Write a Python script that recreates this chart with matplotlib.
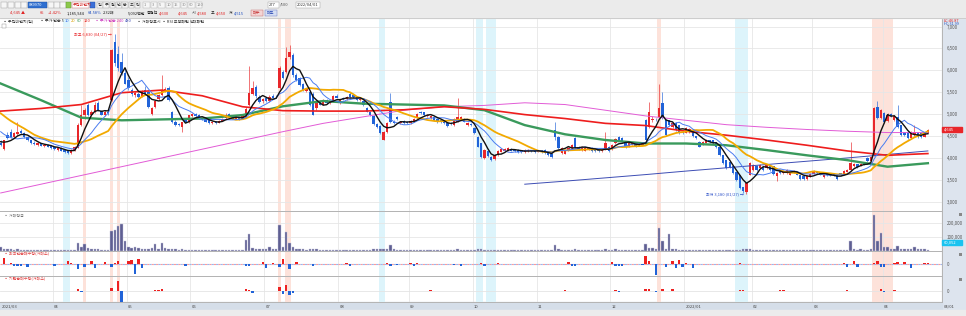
import matplotlib
matplotlib.use("Agg")
import matplotlib.pyplot as plt
from matplotlib.patches import Rectangle
from matplotlib.transforms import blended_transform_factory
import numpy as np
import pandas as pd

plt.rcParams["font.family"] = ["Noto Sans CJK KR", "DejaVu Sans"]

W, H = 966, 316

# ---------------- data ----------------
krx_holidays = ["2021-05-05", "2021-05-19", "2021-08-16", "2021-09-20", "2021-09-21",
                "2021-09-22", "2021-10-04", "2021-10-11", "2021-12-31", "2022-01-31",
                "2022-02-01", "2022-02-02", "2022-03-01", "2022-03-09"]
days = pd.bdate_range("2021-03-10", "2022-04-20")
days = days[~days.isin(pd.to_datetime(krx_holidays))]

opens = [
    4350, 4210, 4520, 4590, 4480, 4540, 4610, 4560, 4480, 4400, 4350, 4300, 4330, 4270, 4300, 4270,
    4240, 4190, 4230, 4180, 4150, 4110, 4180, 4230, 4760, 4990, 5200, 4990, 5060, 5250, 5080, 4990, 5060, 5320, 6650, 6370, 6200, 5930,
    5780, 5560, 5430, 5470, 5420, 5560, 5500, 5000, 5160, 5340, 5440, 5530, 5600, 5050, 4830, 4780, 4700, 4880, 4820,
    4950, 5000, 4980, 4900, 4900, 4860, 4800, 4830, 4800, 4850, 4920, 5000, 4940, 4900, 4930, 4890, 4960, 5200, 5450, 5620, 5400, 5300,
    5360, 5300, 5420, 5400, 5600, 5960, 5960, 6300, 6350, 5900, 5820, 5700, 5530, 5500, 5450, 5150, 5300, 5220, 5320, 5260, 5300, 5420,
    5250, 5380, 5340, 5460, 5440, 5400, 5320, 5300, 5150, 5060, 4960, 4780, 4740, 4420, 4600, 5270, 4830, 4930, 4800, 4850, 4830,
    4800, 4830, 4920, 5060, 5050, 4950, 4920, 4930, 4900, 4860, 4860, 4800, 4800, 4760, 4830, 4880, 4900, 4750, 4780,
    4680, 4470, 4330, 4000, 4150, 4020, 3980, 4060, 4140, 4170, 4170, 4210, 4190, 4190, 4180, 4130, 4150, 4180, 4180,
    4140, 4180, 4190, 4130, 4100, 4640, 4470, 4110, 4100, 4180, 4220, 4450, 4260, 4180, 4170, 4190, 4230, 4220, 4180, 4150, 4200, 4250,
    4200, 4330, 4470, 4450, 4360, 4280, 4300, 4360, 4290, 4300, 4860, 4700, 4860, 4900, 4930, 5250, 4860, 4860, 4700, 4800, 4750, 4600,
    4570, 4590, 4640, 4500, 4360, 4310, 4340, 4410, 4400, 4360, 4250, 4060, 3950, 3900, 3810, 3680, 3610, 3330, 3220, 3610,
    3720, 3810, 3780, 3800, 3760, 3820, 3810, 3580, 3700, 3650, 3650, 3620, 3660, 3680, 3620, 3580, 3520, 3580,
    3640, 3700, 3680, 3560, 3640, 3650, 3640, 3610, 3650, 3620, 3680, 3720, 3820, 3860, 3820, 3900, 4000, 3930, 4060, 5160, 4910,
    5020, 4850, 5000, 4870, 4930, 4750, 4590, 4590, 4450, 4520, 4590, 4560, 4480, 4570,
]
highs = [
    4400, 4420, 4600, 4650, 4600, 4820, 4650, 4590, 4500, 4420, 4380, 4360, 4350, 4320, 4320, 4290,
    4260, 4250, 4240, 4200, 4160, 4200, 4270, 4800, 5200, 5150, 5250, 5090, 5280, 5300, 5100, 5090, 5100, 6480, 6830, 6550, 6400, 6050,
    5850, 5600, 5520, 5500, 5560, 5640, 5520, 5160, 5320, 5460, 5890, 5620, 5640, 5080, 4860, 4800, 4830, 4900, 4990,
    5030, 5020, 5000, 4920, 4910, 4870, 4840, 4840, 4870, 4920, 5020, 5020, 4960, 4950, 4940, 4970, 5160, 6100, 5750, 5660, 5430, 5380,
    5400, 5440, 5460, 5440, 6100, 6000, 6530, 6570, 6400, 5950, 5840, 5720, 5600, 5520, 5500, 5320, 5320, 5340, 5340, 5300, 5440, 5450,
    5350, 5400, 5410, 5500, 5460, 5420, 5390, 5320, 5170, 5080, 4980, 4800, 4760, 4620, 4820, 5480, 4860, 4950, 4850, 4870, 4850,
    4860, 4920, 5020, 5080, 5060, 5010, 4980, 4950, 4910, 4880, 4870, 4810, 4820, 4920, 5360, 4960, 4920, 4820, 4800,
    4700, 4490, 4340, 4200, 4170, 4040, 4090, 4190, 4220, 4230, 4240, 4220, 4200, 4200, 4190, 4200, 4200, 4190, 4190,
    4190, 4190, 4200, 4140, 4110, 4820, 4490, 4240, 4180, 4250, 4320, 4470, 4280, 4270, 4240, 4260, 4240, 4230, 4190, 4220, 4590, 4270,
    4310, 4460, 4490, 4470, 4380, 4350, 4360, 4370, 4350, 4370, 4900, 5270, 4950, 4920, 5700, 5500, 4880, 4870, 4820, 4810, 4760, 4620,
    4700, 4680, 4650, 4510, 4380, 4380, 4430, 4420, 4410, 4370, 4260, 4070, 3960, 3910, 3820, 3690, 3620, 3340, 3440, 3900,
    3860, 3830, 3860, 3810, 3860, 3830, 3820, 3670, 3710, 3720, 3740, 3690, 3720, 3690, 3630, 3590, 3610, 3650,
    3720, 3710, 3690, 3620, 3650, 3660, 3650, 3620, 3660, 3720, 3740, 4360, 3880, 3870, 3880, 3910, 4020, 4040, 5160, 5290, 5120,
    5060, 5030, 5020, 4980, 5200, 4760, 4600, 4610, 4610, 4750, 4600, 4570, 4600, 4660,
]
lows = [
    4280, 4180, 4430, 4460, 4460, 4520, 4540, 4460, 4380, 4320, 4290, 4280, 4270, 4250, 4240, 4210,
    4180, 4170, 4150, 4120, 4080, 4100, 4170, 4220, 4740, 4900, 4950, 4950, 5030, 5080, 4970, 4960, 4990, 5300, 6100, 5980, 5900, 5680,
    5560, 5420, 5400, 5370, 5400, 5450, 5150, 4980, 5140, 5320, 5420, 5500, 5300, 4800, 4740, 4720, 4600, 4810, 4800,
    4930, 4940, 4880, 4860, 4810, 4780, 4780, 4780, 4790, 4840, 4900, 4910, 4880, 4890, 4870, 4880, 4940, 5180, 5430, 5380, 5250, 5260,
    5270, 5280, 5360, 5360, 5580, 5800, 5940, 6260, 5860, 5760, 5640, 5530, 5500, 5180, 4970, 5100, 5200, 5200, 5230, 5240, 5280, 5360,
    5230, 5320, 5330, 5380, 5370, 5300, 5300, 5180, 5040, 4960, 4760, 4680, 4550, 4400, 4580, 4800, 4780, 4860, 4780, 4770, 4780,
    4780, 4820, 4900, 5000, 4960, 4940, 4900, 4840, 4800, 4800, 4780, 4700, 4760, 4740, 4820, 4860, 4810, 4730, 4740,
    4540, 4240, 4000, 3980, 4020, 3940, 3960, 4050, 4130, 4160, 4160, 4150, 4130, 4120, 4120, 4120, 4140, 4130, 4120,
    4130, 4110, 4100, 4040, 4000, 4400, 4200, 4090, 4080, 4160, 4200, 4230, 4180, 4170, 4160, 4180, 4140, 4140, 4130, 4140, 4190, 4130,
    4190, 4310, 4390, 4360, 4230, 4260, 4290, 4260, 4280, 4290, 4330, 4680, 4820, 4840, 4910, 4890, 4500, 4730, 4680, 4620, 4550, 4550,
    4560, 4580, 4480, 4430, 4240, 4290, 4330, 4350, 4320, 4230, 4040, 3860, 3750, 3780, 3630, 3480, 3290, 3200, 3180, 3600,
    3700, 3700, 3770, 3700, 3750, 3700, 3620, 3480, 3640, 3640, 3640, 3610, 3650, 3600, 3500, 3500, 3500, 3570,
    3630, 3640, 3600, 3540, 3580, 3580, 3580, 3500, 3580, 3610, 3670, 3700, 3800, 3780, 3810, 3830, 3900, 3920, 4050, 4890, 4880,
    4800, 4830, 4940, 4850, 4680, 4500, 4500, 4430, 4440, 4510, 4460, 4450, 4470, 4560,
]
closes = [
    4300, 4400, 4460, 4480, 4570, 4600, 4560, 4480, 4400, 4340, 4310, 4340, 4280, 4300, 4260, 4230,
    4200, 4230, 4170, 4140, 4110, 4180, 4250, 4760, 4980, 5100, 4980, 5050, 5200, 5100, 4990, 5060, 5020, 6460, 6160, 6050, 5930, 5700,
    5600, 5450, 5480, 5390, 5520, 5470, 5170, 5140, 5300, 5430, 5520, 5580, 5320, 4820, 4760, 4750, 4820, 4830, 4970,
    5000, 4960, 4900, 4880, 4830, 4800, 4820, 4800, 4850, 4900, 4990, 4930, 4900, 4930, 4890, 4950, 5120, 5480, 5600, 5420, 5280, 5350,
    5290, 5400, 5380, 5390, 6050, 5820, 6280, 6420, 5890, 5780, 5660, 5550, 5580, 5200, 4990, 5300, 5220, 5320, 5250, 5280, 5420, 5380,
    5330, 5340, 5390, 5400, 5390, 5320, 5370, 5200, 5060, 4980, 4780, 4700, 4570, 4590, 4800, 4830, 4800, 4880, 4830, 4790, 4800,
    4840, 4900, 5000, 5020, 4980, 4990, 4960, 4860, 4820, 4820, 4800, 4720, 4780, 4900, 4930, 4940, 4830, 4800, 4760,
    4560, 4260, 4020, 4180, 4040, 3960, 4070, 4170, 4200, 4210, 4220, 4170, 4150, 4140, 4140, 4180, 4180, 4150, 4140,
    4170, 4130, 4120, 4060, 4020, 4470, 4220, 4220, 4160, 4230, 4300, 4260, 4200, 4250, 4220, 4240, 4160, 4160, 4150, 4200, 4330, 4150,
    4290, 4440, 4410, 4380, 4250, 4330, 4340, 4280, 4330, 4350, 4400, 5050, 4900, 4880, 5140, 4910, 4520, 4750, 4800, 4640, 4570, 4570,
    4680, 4660, 4500, 4450, 4260, 4360, 4410, 4370, 4340, 4250, 4060, 3880, 3770, 3800, 3650, 3500, 3310, 3240, 3420, 3880,
    3840, 3720, 3840, 3720, 3840, 3720, 3640, 3650, 3660, 3700, 3720, 3670, 3700, 3620, 3520, 3520, 3590, 3630,
    3700, 3660, 3620, 3600, 3600, 3600, 3600, 3520, 3600, 3700, 3720, 3880, 3860, 3800, 3860, 3850, 3920, 4020, 5140, 4910, 5090,
    4820, 4990, 4960, 4960, 4700, 4520, 4520, 4450, 4590, 4590, 4480, 4470, 4580, 4645,
]
# closes before the first visible day (they only feed the short averages)
prev_closes = [5600, 5650, 5550, 5500, 5450, 5400, 5350, 5350, 5300, 5250,
               5000, 4900, 4800, 4750, 4700, 4450, 4400, 4350, 4350]

# volume, thousand shares
volume_k = [
    25, 12, 9, 10, 8, 14, 7, 6, 6, 5, 5, 6, 4, 5, 4, 5,
    5, 4, 5, 6, 5, 4, 8, 58, 30, 48, 18, 12, 14, 10, 8, 7, 6, 140, 150, 175, 190, 70,
    30, 22, 25, 18, 15, 14, 12, 20, 48, 14, 58, 16, 12, 14, 10, 8, 9, 7, 8,
    7, 6, 6, 5, 5, 6, 5, 4, 5, 6, 8, 6, 5, 5, 4, 6, 78, 123, 20, 15, 12, 10,
    10, 25, 12, 10, 183, 30, 138, 53, 25, 15, 12, 10, 8, 12, 14, 10, 8, 7, 6, 6, 8, 7,
    8, 7, 6, 7, 6, 6, 5, 6, 7, 8, 10, 9, 12, 14, 12, 39, 10, 8, 6, 6, 5,
    5, 6, 7, 6, 5, 5, 4, 5, 5, 4, 4, 5, 4, 8, 10, 6, 5, 5, 4,
    6, 10, 12, 8, 6, 5, 5, 6, 5, 4, 4, 4, 4, 4, 4, 4, 5, 4, 4,
    4, 4, 5, 6, 7, 39, 12, 6, 5, 5, 6, 9, 6, 5, 4, 4, 4, 4, 4, 5, 14, 6,
    6, 9, 7, 6, 7, 5, 5, 5, 5, 6, 45, 20, 20, 12, 163, 69, 15, 121, 15, 10, 8, 7,
    6, 6, 6, 5, 5, 5, 5, 5, 4, 5, 6, 7, 6, 5, 6, 7, 8, 10, 12, 9,
    7, 6, 5, 5, 5, 4, 5, 6, 5, 4, 4, 4, 4, 4, 5, 4, 4, 4,
    4, 4, 4, 4, 4, 4, 4, 5, 5, 6, 8, 71, 10, 7, 12, 6, 8, 10, 257, 71, 125,
    30, 28, 15, 12, 35, 12, 12, 15, 10, 30, 12, 10, 9, 8,
]

# long averages, one value every 12 trading days
ma_step = 12
ma60_pts = [5700, 5320, 4920, 4860, 4880, 4900, 4980, 5180, 5300, 5240, 5220, 5200,
            5090, 4750, 4540, 4410, 4330, 4330, 4290, 4180, 4060, 3950, 3800, 3880]
ma120_pts = [5070, 5130, 5220, 5490, 5550, 5420, 5170, 5080, 5070, 5070, 5100, 5170,
             5110, 4990, 4900, 4790, 4740, 4610, 4520, 4410, 4290, 4160, 4060, 4100]
ma240_pts = [3200, 3400, 3600, 3800, 4000, 4200, 4400, 4600, 4790, 4940, 5090, 5170,
             5200, 5260, 5220, 5090, 4960, 4860, 4760, 4700, 4650, 4610, 4580, 4580]
ma480_start = 156
ma480_pts = [3400, 3470, 3545, 3620, 3700, 3775, 3850, 3925, 4000, 4080, 4160]

# net buying (thousand shares) on the days where a bar is visible
foreign_days = [1, 3, 4, 5, 6, 8, 16, 20, 21, 23, 25, 27, 28, 31, 33, 34, 35, 38, 39, 40, 41, 42,
                55, 73, 74, 78, 79, 81, 83, 84, 86, 88, 93, 103, 104, 115, 116, 118, 122, 123,
                124, 135, 137, 143, 144, 148, 169, 170, 171, 182, 183, 184, 185, 191, 192, 193,
                195, 198, 200, 201, 202, 203, 204, 206, 220, 251, 252, 254, 255, 260, 261, 262,
                263, 266, 267, 269, 271, 275, 276]
foreign_net = [6, 1.7, -1.7, -1.7, -1.7, -2.3, -1.5, 3.3, 1.5, -5, -2.3, 3.3, -4, 2.7, -2.3, 1.7,
               3.7, 3.7, 4.3, -9.7, 5, -4, -1.7, -1.7, -1.7, 2.7, -4, 1.7, -3, 5, -5, 2, -1.7,
               1.5, -1.5, 1, -1.5, -1, 1.5, -1.5, 1, -1, -1.5, 1.5, -1.5, 1, 2, -1.5, -1.5, 2,
               -1.5, -1.5, -1.5, -1, 8, 3, -10.7, -2.3, 3.3, -4, 4.3, -2.3, 1, -3.3, 1.5, 1.5,
               -2.3, 3.3, -2.3, 1, 3.3, -2.3, -2.3, 1.7, 2, 2.3, -4, 1, 1]
inst_days = [23, 24, 33, 35, 36, 46, 47, 48, 65, 73, 74, 75, 77, 83, 84, 85, 86, 87, 102, 103,
             104, 128, 148, 168, 170, 183, 184, 192, 193, 195, 197, 198, 200, 201, 202, 203,
             204, 220, 221, 232, 233, 252, 254, 262, 263, 266, 269, 270, 271]
inst_net = [1.3, -1, 2.3, 10, -11, 1, 1, 1.3, -0.5, 1.3, 1, -2, -0.7, 4, -3.3, 6, -4, -2, -0.7,
            -0.7, -0.7, 0.7, -0.5, 0.7, -0.7, 1, -1, 1.3, 1.7, -1.7, 1.3, -0.7, 1.7, -0.7, -0.7,
            -0.7, -0.7, 0.7, 0.7, 0.7, 0.7, 0.7, -0.7, 1.7, -1.3, 0.7, -0.5, -0.5, -0.5]

# marked periods (first day, last day)
red_marks = [(25, 25), (33, 33), (35, 35), (83, 83), (85, 86), (196, 196), (260, 265)]
blue_marks = [(19, 20), (113, 114), (142, 143), (145, 147), (219, 222)]

# ---------------- figure ----------------
UP, DN = "#e8262a", "#2163d8"
FS = 2.9
fig = plt.figure(figsize=(W / 100, H / 100), dpi=100)
fig.patch.set_facecolor("white")


def ax_at(x0, y0, x1, y1):
    return fig.add_axes([x0 / W, 1 - y1 / H, (x1 - x0) / W, (y1 - y0) / H])


# right scale strip, date strip and bottom bar
fig.add_artist(Rectangle((942 / W, 0), 24 / W, 1 - 17.5 / H, transform=fig.transFigure,
                         color="#dde4ee", zorder=-5))
fig.add_artist(Rectangle((0, 1 - 310 / H), 942 / W, 8.3 / H, transform=fig.transFigure,
                         color="#d5dee9", zorder=-5))
fig.add_artist(Rectangle((0, 0), 1, 6 / H, transform=fig.transFigure,
                         color="#ececec", zorder=-4))

x = np.arange(len(closes))
o, h, l, c = map(np.array, (opens, highs, lows, closes))
xlim = (-0.2, 280.2)
month_first = [i for i in range(1, len(days)) if days[i].month != days[i - 1].month]

ax_p = ax_at(0, 17.5, 942, 210.7)
ax_v = ax_at(0, 210.7, 942, 250.7)
ax_f = ax_at(0, 250.7, 942, 276)
ax_i = ax_at(0, 276, 942, 301.7)
panels = [ax_p, ax_v, ax_f, ax_i]

for ax in panels:
    ax.set_xlim(*xlim)
    ax.set_facecolor("none")
    for s in ax.spines.values():
        s.set_color("#b4b4b4")
        s.set_linewidth(0.7)
    ax.spines["left"].set_visible(False)
    ax.set_xticks([])
    for a, b in red_marks:
        ax.axvspan(a - 0.5, b + 0.5, color="#fde2da", lw=0, zorder=0)
    for a, b in blue_marks:
        ax.axvspan(a - 0.5, b + 0.5, color="#ddf4fb", lw=0, zorder=0)
    for m in month_first:
        ax.axvline(m - 0.5, color="#e6e6e6", lw=0.6, zorder=0.5)
    ax.yaxis.tick_right()
    ax.tick_params(axis="y", length=0, labelsize=3.2, labelcolor="#555555", pad=3.5)

# price panel
ax_p.set_ylim(2795, 7208)
ax_p.set_yticks(np.arange(3000, 7001, 500))
ax_p.set_yticklabels([f"{v:,}" for v in range(3000, 7001, 500)])
ax_p.grid(axis="y", color="#e6e6e6", lw=0.6, zorder=0.5)
up = c >= o
col = np.where(up, UP, DN)
ax_p.vlines(x, l, h, colors=col, lw=0.45, zorder=2)
ax_p.bar(x, np.maximum(np.abs(c - o), 12), bottom=np.minimum(o, c), width=0.7,
         color=col, lw=0, zorder=2)

allc = pd.Series(prev_closes + closes, dtype=float)
n0 = len(prev_closes)
for n, color, lw in [(20, "#f2a900", 1.3), (10, "#4a7cf0", 0.7), (5, "#111111", 1.0)]:
    ma = allc.rolling(n).mean().values[n0:]
    ax_p.plot(x, ma, color=color, lw=lw, zorder=4)
xs = np.arange(len(ma60_pts)) * ma_step
ax_p.plot(xs, ma240_pts, color="#e25bd6", lw=0.7, zorder=3)
ax_p.plot(ma480_start + np.arange(len(ma480_pts)) * ma_step, ma480_pts,
          color="#3d4db4", lw=0.7, zorder=3)
ax_p.plot(xs, ma60_pts, color="#3a9a5c", lw=1.7, zorder=3)
ax_p.plot(xs, ma120_pts, color="#ee1d1d", lw=1.2, zorder=3)

hi = int(np.argmax(h))
lo = int(np.argmin(l))
ax_p.text(hi - 0.8, h[hi], f"최고 {h[hi]:,} ({days[hi]:%m/%d}) →", color="#e8262a",
          fontsize=FS, ha="right", va="center", zorder=6)
ax_p.text(lo - 0.8, l[lo], f"최저 {l[lo]:,} ({days[lo]:%m/%d}) →", color="#2c50c8",
          fontsize=FS, ha="right", va="center", zorder=6)

# volume panel
ax_v.set_ylim(0, 288)
ax_v.set_yticks([100, 200])
ax_v.set_yticklabels(["100,000", "200,000"])
ax_v.grid(axis="y", color="#e6e6e6", lw=0.6, zorder=0.5)
ax_v.bar(x, volume_k, width=0.72, color="#5f5f92", edgecolor="#c3c3dc", lw=0.3, zorder=2)

# net buying panels
for ax, d, v, lim in [(ax_f, foreign_days, foreign_net, (-11.7, 13.6)),
                      (ax_i, inst_days, inst_net, (-11, 14.7))]:
    ax.set_ylim(*lim)
    ax.set_yticks([0])
    ax.set_yticklabels(["0"])
    v = np.array(v)
    ax.bar(d, v, width=0.72, color=np.where(v > 0, "#ee2020", "#2163d8"), lw=0, zorder=2)
ax_f.axhline(0, color="#ff9a9a", lw=0.8, ls=(0, (2, 2)), zorder=1)
ax_f.axhline(0, color="#9ab8ee", lw=0.8, ls=(2, (2, 2)), zorder=1)
ax_i.axhline(0, color="#e4e4e4", lw=0.6, zorder=1)

# panel titles
ax_v.text(0.004, 0.93, "▪ 거래량금", transform=ax_v.transAxes, fontsize=FS,
          color="#777777", va="top")
ax_f.text(0.004, 0.95, "▪ 외국인순매수량(거래소)", transform=ax_f.transAxes, fontsize=FS,
          color="#e04040", va="top")
ax_i.text(0.004, 0.95, "▪ 기관순매수량(거래소)", transform=ax_i.transAxes, fontsize=FS,
          color="#e04040", va="top")

# month labels in the date strip
tr = blended_transform_factory(ax_i.transData, ax_i.transAxes)
ax_i.text(0.3, -0.12, f"{days[0]:%Y/%m}", transform=tr, fontsize=3.0, color="#444444",
          va="top", ha="left")
for m in month_first:
    lab = f"{days[m]:%Y/%m}" if days[m].month == 1 else f"{days[m]:%m}"
    ax_i.text(m - 0.1, -0.12, lab, transform=tr, fontsize=3.0, color="#444444",
              va="top", ha="left")

# ---------------- overlay: toolbar, legend, value boxes ----------------
ov = fig.add_axes([0, 0, 1, 1], zorder=10)
ov.set_xlim(0, W)
ov.set_ylim(H, 0)
ov.axis("off")
ov.set_facecolor("none")
ov.add_patch(Rectangle((0, 0), W, 17.5, color="#ebebeb", zorder=0))
ov.plot([0, W], [17.5, 17.5], color="#c8c8c8", lw=0.6)
renderer = fig.canvas.get_renderer()


def put_row(items, y, gap=1.2):
    end = 0
    for px, t, cc in items:
        px = max(px, end + gap)
        tt = ov.text(px, y, t, fontsize=FS, color=cc, va="center")
        end = tt.get_window_extent(renderer).x1


# toolbar buttons
for bx in [1, 8, 15, 21]:
    ov.add_patch(Rectangle((bx, 1.5), 5.5, 6, fc="#f6f6f6", ec="#9a9a9a", lw=0.3))
ov.add_patch(Rectangle((28, 1.5), 19, 6, fc="#2f6fd0", ec="#2050a0", lw=0.3))
ov.text(29, 4.6, "089970", fontsize=FS, color="white", va="center")
for bx in [48, 54, 60]:
    ov.add_patch(Rectangle((bx, 1.5), 5.5, 6, fc="#f6f6f6", ec="#9a9a9a", lw=0.3))
ov.add_patch(Rectangle((66, 1.5), 5, 6, fc="#8cc84b", ec="#5a9a2a", lw=0.3))
ov.add_patch(Rectangle((72, 1.5), 17, 6, fc="white", ec="#c06060", lw=0.3))
ov.text(73, 4.6, "우진비앤지", fontsize=FS, color="#d02020", va="center")
ov.add_patch(Rectangle((90, 1.5), 5, 6, fc="#3b6fd8", ec="#2050a0", lw=0.3))
for k, t in enumerate(["일", "주", "월", "년", "분", "초", "틱"]):
    ov.add_patch(Rectangle((97 + k * 6.3, 1.5), 5.6, 6, fc="#f6f6f6", ec="#9a9a9a", lw=0.3))
    ov.text(98 + k * 6.3, 4.6, t, fontsize=FS, color="#333333", va="center")
for k, t in enumerate(["1", "3", "5", "10", "15", "30", "60", "120"]):
    ov.add_patch(Rectangle((143 + k * 7.5, 1.5), 6.8, 6, fc="#f6f6f6", ec="#b0b0b0", lw=0.3))
    ov.text(144 + k * 7.5, 4.6, t, fontsize=FS, color="#888888", va="center")
ov.add_patch(Rectangle((268, 1.5), 11, 6, fc="white", ec="#999999", lw=0.3))
ov.text(269, 4.6, "277", fontsize=FS, color="#333333", va="center")
ov.text(280, 4.6, "/500", fontsize=FS, color="#555555", va="center")
ov.add_patch(Rectangle((296, 1.5), 24, 6, fc="white", ec="#999999", lw=0.3))
ov.text(297, 4.6, "2022/04/01", fontsize=FS, color="#333333", va="center")

row2 = [(10, "4,645 ▲", "#e02020"), (40, "65", "#e02020"), (48, "+1.42%", "#e02020"),
        (67, "1,185,944", "#222222"), (88, "64.58%", "#2050c0"), (99, "2.32배", "#222222"),
        (128, "5,092백만", "#222222"), (141, "증권선", "#222222"), (157, "4,630", "#e02020"),
        (178, "4,645", "#e02020"), (192, "시", "#222222"), (197, "4,580", "#e02020"),
        (211, "고", "#222222"), (215, "4,650", "#e02020"), (229, "저", "#222222"),
        (233, "4,515", "#2050c0")]
put_row(row2, 13)
ov.add_patch(Rectangle((251, 10), 12, 6, fc="#f3d5d5", ec="#c06060", lw=0.3))
ov.text(253, 13, "매수", fontsize=FS, color="#c02020", va="center")
ov.add_patch(Rectangle((265, 10), 12, 6, fc="#d5def3", ec="#6070c0", lw=0.3))
ov.text(267, 13, "매도", fontsize=FS, color="#2040b0", va="center")

legend = [(3, "▪ 우진비앤지(일)", "#333333"), (40, "▪ 주가 단순 5", "#333333"),
          (63, "10", "#3a6ee8"), (70, "20", "#d9a000"), (77, "60", "#3a9a5c"),
          (84, "120", "#e02020"), (95, "▪ 주가 단순 240", "#cc3bc0"), (124, "480", "#3d4db4"),
          (137, "▪ 거래량표시", "#333333"), (160, "▪ RSI 모형패턴", "#333333"),
          (190, "막대패턴", "#333333")]
put_row(legend, 21.5)
ov.add_patch(Rectangle((2, 24), 4, 4, fc="white", ec="#888888", lw=0.3))

ov.text(944, 20.5, "LC:46.87", fontsize=2.8, color="#e02020", va="center")
ov.text(944, 24, "HC:31.99", fontsize=2.8, color="#2050c0", va="center")
yl = 17.5 + (7208 - c[-1]) / (7208 - 2795) * (210.7 - 17.5)
ov.add_patch(Rectangle((942, yl - 2.7), 20, 5.4, color="#e8262a"))
ov.text(944, yl, f"{c[-1]:,}", fontsize=2.9, color="white", va="center")
yv = 210.7 + (288 - 60.052) / 288 * 40
ov.add_patch(Rectangle((942, yv - 2.7), 20, 5.4, color="#19c3f0"))
ov.text(944, yv, "60,052", fontsize=2.9, color="white", va="center")
for yy in [212.5, 253, 278]:
    ov.add_patch(Rectangle((959, yy), 3, 3, fc="#888888", lw=0))
ov.text(944, 306, f"{days[263]:%m/%d}", fontsize=3.0, color="#444444", va="center")

fig.savefig("out.png", dpi=100)
